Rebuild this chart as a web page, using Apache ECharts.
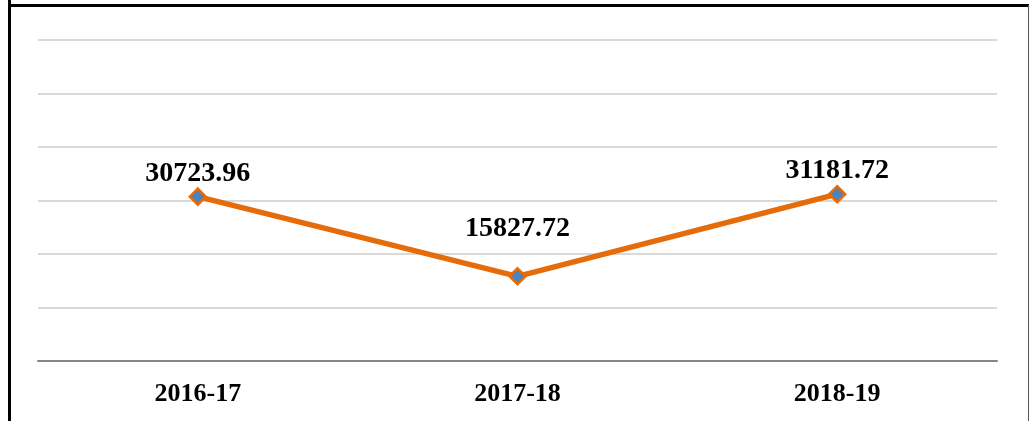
<!DOCTYPE html>
<html>
<head>
<meta charset="utf-8">
<script src="https://cdn.jsdelivr.net/npm/echarts@6/dist/echarts.min.js"></script>
<style>
  html, body { margin: 0; padding: 0; background: #fff; }
  #chart { width: 1036px; height: 421px; }
</style>
</head>
<body>
<div id="chart"></div>
<script>
// data
const years = ['2016-17', '2017-18', '2018-19']
const amounts = [30723.96, 15827.72, 31181.72]
const labelGaps = [0, 24, 0]

const chart = echarts.init(document.getElementById('chart'))

chart.setOption({
  backgroundColor: '#ffffff',
  animation: false,
  grid: {
    left: 38,
    right: 39,
    top: 40,
    bottom: 60
  },
  graphic: [
    { type: 'line', shape: { x1: 9.5, y1: 0, x2: 9.5, y2: 421 }, style: { stroke: '#000', lineWidth: 3 } },
    { type: 'line', shape: { x1: 8, y1: 5.5, x2: 1029, y2: 5.5 }, style: { stroke: '#000', lineWidth: 3 } },
    { type: 'line', shape: { x1: 1028.5, y1: 5, x2: 1028.5, y2: 421 }, style: { stroke: '#555', lineWidth: 1 } }
  ],
  xAxis: {
    type: 'category',
    data: years,
    boundaryGap: true,
    axisLine: { lineStyle: { color: '#868686', width: 2 } },
    axisTick: { show: false },
    axisLabel: {
      margin: 20,
      fontFamily: 'Liberation Serif',
      fontWeight: 'bold',
      fontSize: 26,
      color: '#000'
    }
  },
  yAxis: {
    type: 'value',
    min: 0,
    max: 60000,
    interval: 10000,
    axisLabel: { show: false },
    axisLine: { show: false },
    axisTick: { show: false },
    splitLine: { lineStyle: { color: '#d9d9d9', width: 2 } }
  },
  series: [{
    type: 'line',
    data: amounts.map((v, i) => ({
      value: v,
      label: { distance: labelGaps[i] }
    })),
    symbol: 'diamond',
    symbolSize: 16,
    lineStyle: { color: '#e46c0a', width: 5.5 },
    itemStyle: { color: '#4f81bd', borderColor: '#e46c0a', borderWidth: 2.5 },
    label: {
      show: true,
      position: 'top',
      fontFamily: 'Liberation Serif',
      fontWeight: 'bold',
      fontSize: 28,
      color: '#000',
      formatter: p => p.value.toFixed(2)
    }
  }]
})
</script>
</body>
</html>
